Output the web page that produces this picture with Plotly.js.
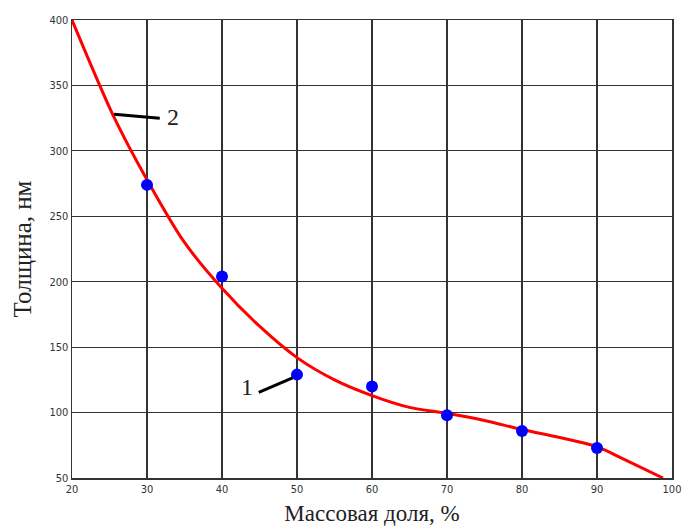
<!DOCTYPE html>
<html>
<head>
<meta charset="utf-8">
<script src="https://cdn.plot.ly/plotly-3.0.1.min.js"></script>
<style>html,body{margin:0;padding:0;background:#fff;}#chart{width:686px;height:531px;}</style>
</head>
<body>
<div id="chart"></div>
<script>
// Measured points (series 1)
const pointX = [30, 40, 50, 60, 70, 80, 90];
const pointY = [274, 204, 129, 120, 98, 86, 73];
// Fitted curve (series 2)
const curveX = [20, 25.5, 30, 35, 40, 45, 50, 55, 60, 65, 70, 75, 80, 85, 90, 93, 98.8];
const curveY = [400, 327, 278, 230, 195, 166, 142, 125, 113, 104, 99.5, 94, 87, 81, 74, 66, 50];
const xTicks = [20, 30, 40, 50, 60, 70, 80, 90, 100];
const yTicks = [50, 100, 150, 200, 250, 300, 350, 400];
const xTitle = 'Массовая доля, %';
const yTitle = 'Толщина, нм';
const labels = ['1', '2'];

const traces = [
  {x: curveX, y: curveY, mode: 'lines', type: 'scatter',
   line: {color: '#ff0000', width: 3, shape: 'spline', smoothing: 0.8}, showlegend: false, hoverinfo: 'skip'},
  {x: pointX, y: pointY, mode: 'markers', type: 'scatter',
   marker: {color: '#0000ff', size: 12}, showlegend: false}
];

const axisCommon = {
  showline: true, mirror: true, linecolor: '#333', linewidth: 1.5,
  showgrid: true, gridcolor: '#333', gridwidth: 1.2,
  zeroline: false, ticks: '',
  tickfont: {family: 'DejaVu Sans Condensed, DejaVu Sans', size: 11, color: '#333'}
};

const layout = {
  width: 686, height: 531,
  margin: {l: 72, r: 14, t: 20, b: 53},
  paper_bgcolor: '#fff', plot_bgcolor: '#fff',
  xaxis: Object.assign({}, axisCommon, {
    range: [20, 100], tickvals: xTicks, ticktext: xTicks.map(String),
    title: {text: xTitle, font: {family: 'Liberation Serif, Times New Roman, serif', size: 23, color: '#222'}, standoff: 10}
  }),
  yaxis: Object.assign({}, axisCommon, {
    range: [50, 400], tickvals: yTicks, ticktext: yTicks.map(String), ticklabelstandoff: 0,
    title: {text: yTitle, font: {family: 'Liberation Serif, Times New Roman, serif', size: 25, color: '#222'}, standoff: 10}
  }),
  shapes: [
    {type: 'line', xref: 'x', yref: 'y', x0: 44.9, y0: 115.5, x1: 49.4, y1: 126.5, line: {color: '#000', width: 3}},
    {type: 'line', xref: 'x', yref: 'y', x0: 25.6, y0: 328, x1: 31.7, y1: 325, line: {color: '#000', width: 3}}
  ],
  annotations: [
    {x: 43.3, y: 119.5, xref: 'x', yref: 'y', text: labels[0], showarrow: false,
     font: {family: 'Liberation Serif, Times New Roman, serif', size: 24, color: '#222'}},
    {x: 33.4, y: 326, xref: 'x', yref: 'y', text: labels[1], showarrow: false,
     font: {family: 'Liberation Serif, Times New Roman, serif', size: 24, color: '#222'}}
  ]
};

Plotly.newPlot('chart', traces, layout, {displayModeBar: false, staticPlot: true});
</script>
</body>
</html>
